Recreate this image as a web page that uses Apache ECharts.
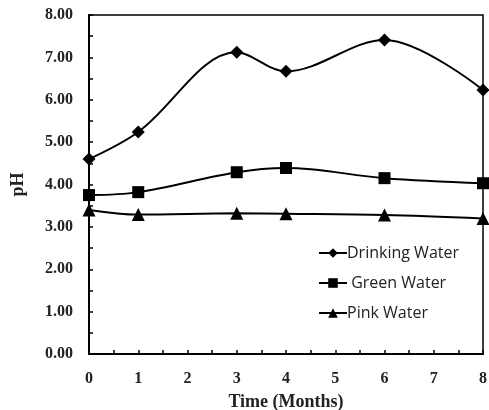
<!DOCTYPE html>
<html>
<head>
<meta charset="utf-8">
<script src="https://cdn.jsdelivr.net/npm/echarts@6/dist/echarts.min.js"></script>
<style>
  html, body { margin: 0; padding: 0; background: #fff; }
  #chart { width: 489px; height: 410px; }
</style>
</head>
<body>
<div id="chart"></div>
<script>
// months sampled
const months = [0, 1, 3, 4, 6, 8];
const drinkingWater = [4.60, 5.24, 7.12, 6.67, 7.41, 6.23];
const greenWater = [3.75, 3.82, 4.29, 4.39, 4.15, 4.03];
const pinkWater = [3.40, 3.29, 3.32, 3.31, 3.28, 3.20];

const pair = (ys) => months.map((m, i) => [m, ys[i]]);

const chart = echarts.init(document.getElementById('chart'));

const axisFont = {
  fontFamily: 'Liberation Serif',
  fontWeight: 'bold',
  color: '#222'
};

const lineSeries = (name, ys, symbol, size) => ({
  name: name,
  type: 'line',
  data: pair(ys),
  smooth: 0.35,
  symbol: symbol,
  symbolSize: size,
  lineStyle: { color: '#000', width: 2 },
  itemStyle: { color: '#000' }
});

chart.setOption({
  animation: false,
  grid: {
    left: 89, right: 6, top: 15, bottom: 56,
    outerBoundsMode: 'none',
    containLabel: false,
    show: true,
    borderColor: '#000',
    borderWidth: 1.5
  },
  legend: {
    orient: 'vertical',
    left: 313,
    top: 240,
    itemGap: 14,
    itemWidth: 28,
    itemHeight: 12,
    textStyle: { fontFamily: 'Open Sans', fontSize: 16, color: '#222', padding: [0, 0, 0, -5] },
    formatter: (name) => name === 'Green Water' ? ' ' + name : name,
    data: ['Drinking Water', 'Green Water', 'Pink Water']
  },
  xAxis: {
    type: 'value',
    min: 0, max: 8, interval: 1,
    name: 'Time (Months)',
    nameLocation: 'middle',
    nameGap: 39,
    nameTextStyle: Object.assign({ fontSize: 18 }, axisFont),
    axisLine: { lineStyle: { color: '#000', width: 2 } },
    axisTick: { inside: true, length: 4, lineStyle: { color: '#000', width: 1.5 } },
    minorTick: { show: true, splitNumber: 2, length: 4, lineStyle: { color: '#000', width: 1.5 } },
    axisLabel: Object.assign({ margin: 17, fontSize: 16 }, axisFont),
    splitLine: { show: false }
  },
  yAxis: {
    type: 'value',
    min: 0, max: 8, interval: 1,
    name: 'pH',
    nameLocation: 'middle',
    nameGap: 62,
    nameTextStyle: Object.assign({ fontSize: 18 }, axisFont),
    axisLine: { show: true, lineStyle: { color: '#000', width: 2 } },
    axisTick: { show: true, inside: true, length: 4, lineStyle: { color: '#000', width: 1.5 } },
    minorTick: { show: true, splitNumber: 2, length: 4, lineStyle: { color: '#000', width: 1.5 } },
    axisLabel: Object.assign({ margin: 16, fontSize: 16, formatter: (v) => v.toFixed(2) }, axisFont),
    splitLine: { show: false }
  },
  series: [
    lineSeries('Drinking Water', drinkingWater, 'diamond', 13),
    lineSeries('Green Water', greenWater, 'rect', 12),
    lineSeries('Pink Water', pinkWater, 'triangle', 13)
  ]
});
</script>
</body>
</html>
